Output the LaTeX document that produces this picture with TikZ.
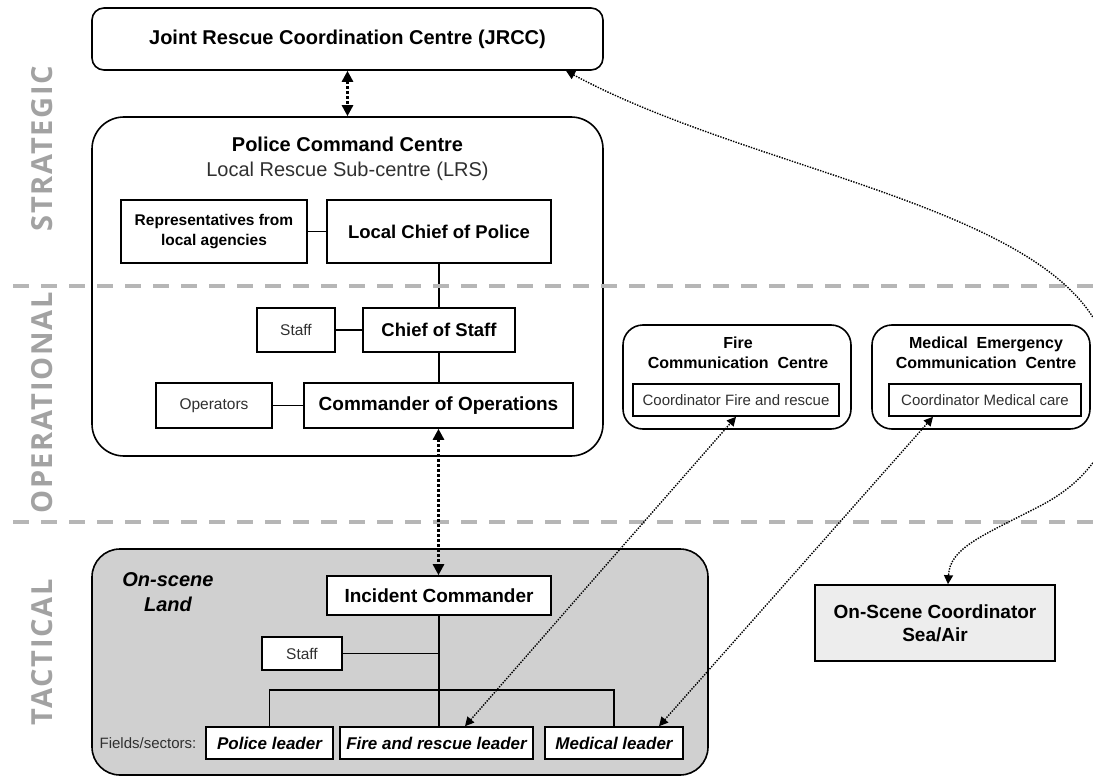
\documentclass[tikz,border=0pt]{standalone}
\usepackage{fontspec}
\setmainfont{Liberation Sans}
\newfontfamily\lvlfont{Open Sans}[LetterSpace=6]
\usetikzlibrary{arrows.meta}
\definecolor{lvlgray}{HTML}{A2A2A2}
\definecolor{dashgray}{HTML}{B6B6B6}
\definecolor{tacfill}{HTML}{D0D0D0}
\definecolor{oscfill}{HTML}{EDEDED}
\definecolor{txtgray}{HTML}{303030}
\newcommand\fsz[2]{\fontsize{#1}{#2}\selectfont}
\begin{document}
\begin{tikzpicture}[x=1pt,y=-1pt,
  box/.style={draw=black, line width=1.6pt, fill=white, inner sep=0pt, align=center, text=black},
  rbox/.style={box, rounded corners=#1},
  conn/.style={line width=1.8pt, black},
  levellabel/.style={rotate=90, text=lvlgray, font=\lvlfont\bfseries\fsz{29}{34}, inner sep=0pt},
  levelline/.style={dashgray, line width=4pt, dash pattern=on 16pt off 12pt},
  thickarr/.style={line width=2.6pt, dash pattern=on 2.6pt off 2.4pt,
    {Triangle[length=11pt,width=11pt]}-{Triangle[length=11pt,width=11pt]}},
  thinarr/.style={line width=1.4pt, dash pattern=on 1.4pt off 1.3pt,
    {Triangle[length=9pt,width=9pt]}-{Triangle[length=9pt,width=9pt]}}
]
\useasboundingbox (0,0) rectangle (1093,776);
\clip (0,0) rectangle (1093,776);

% level labels
\node[levellabel] (strat) at (42,148.5) {STRATEGIC};
\node[levellabel] (oper) at (42,403) {OPERATIONAL};
\node[levellabel] (tact) at (42,652) {TACTICAL};

% strategic / operational
\node[rbox=12pt, minimum width=511pt, minimum height=62pt, font=\bfseries\fsz{20}{24}] (jrcc) at (347.5,39) {Joint Rescue Coordination Centre (JRCC)};

\node[rbox=32pt, minimum width=511pt, minimum height=339pt] (pcc) at (347.5,286.5) {};
\node[font=\bfseries\fsz{20}{24}, inner sep=0pt] (pcct) at (347.5,144) {Police Command Centre};
\node[font=\fsz{20}{24}, text=txtgray, inner sep=0pt] (lrs) at (347.5,171) {Local Rescue Sub-centre (LRS)};

\node[box, minimum width=186pt, minimum height=63pt, font=\bfseries\fsz{15.5}{20}] (reps) at (214,231.5) {Representatives from\\local agencies};
\node[box, minimum width=224pt, minimum height=63pt, font=\bfseries\fsz{18.5}{22}] (lcp) at (439,231.5) {Local Chief of Police};

\node[box, minimum width=78pt, minimum height=44pt, font=\fsz{15.5}{19}, text=txtgray] (staffa) at (296,330) {Staff};
\node[box, minimum width=152pt, minimum height=44pt, font=\bfseries\fsz{18.5}{22}] (cos) at (439,330) {Chief of Staff};

\node[box, minimum width=116pt, minimum height=45pt, font=\fsz{15.5}{19}, text=txtgray] (ops) at (214,405.5) {Operators};
\node[box, minimum width=269pt, minimum height=45pt, font=\bfseries\fsz{19}{23}] (coo) at (438.5,405.5) {Commander of Operations};

% fire / medical
\node[rbox=20pt, minimum width=228pt, minimum height=104pt] (fcc) at (737,377) {};
\node[font=\bfseries\fsz{16}{20}, align=center, inner sep=0pt] (fcct) at (738,353) {Fire\\Communication\ \ Centre};
\node[box, minimum width=206pt, minimum height=32pt, font=\fsz{15}{18}, text=txtgray] (fcoord) at (736,400) {Coordinator Fire and rescue};

\node[rbox=20pt, minimum width=218pt, minimum height=104pt] (mcc) at (981,377) {};
\node[font=\bfseries\fsz{16}{20}, align=center, inner sep=0pt] (mcct) at (986,353) {Medical\ \ Emergency\\Communication\ \ Centre};
\node[box, minimum width=192pt, minimum height=32pt, font=\fsz{15}{18}, text=txtgray] (mcoord) at (985,400) {Coordinator Medical care};

% tactical
\node[rbox=28pt, fill=tacfill, minimum width=616pt, minimum height=226pt] (tacbox) at (400,662) {};
\node[font=\bfseries\itshape\fsz{20}{25}, align=center, inner sep=0pt] (onscene) at (168,592.5) {On-scene\\Land};
\node[box, minimum width=224pt, minimum height=39pt, font=\bfseries\fsz{19}{23}] (ic) at (439,595.5) {Incident Commander};
\node[box, minimum width=80pt, minimum height=33pt, font=\fsz{15.5}{19}, text=txtgray] (staffb) at (302,653.5) {Staff};
\node[font=\fsz{15}{18}, text=txtgray, inner sep=0pt] (fields) at (148,743) {Fields/sectors:};
\node[box, minimum width=127pt, minimum height=32pt, font=\bfseries\itshape\fsz{17}{20}] (pol) at (269.5,743) {Police\ leader};
\node[box, minimum width=193pt, minimum height=32pt, font=\bfseries\itshape\fsz{17}{20}] (frl) at (436.5,743) {Fire and rescue leader};
\node[box, minimum width=138pt, minimum height=32pt, font=\bfseries\itshape\fsz{17}{20}] (mdl) at (614,743) {Medical leader};

\node[box, fill=oscfill, minimum width=240pt, minimum height=76pt, font=\bfseries\fsz{19}{23}] (osc) at (935,623) {On-Scene Coordinator\\Sea/Air};

% solid connectors
\draw[conn] (reps) -- (lcp);
\draw[conn] (lcp.south) -- (lcp.south |- cos.north);
\draw[conn] (staffa) -- (cos);
\draw[conn] (cos.south) -- (cos.south |- coo.north);
\draw[conn] (ops) -- (coo);
\coordinate (trunk) at (ic.south |- staffb.east);
\coordinate (busmid) at (ic.south |- 0,690);
\draw[conn] (ic.south) -- (ic.south |- frl.north);
\draw[conn] (staffb.east) -- (trunk);
\draw[conn] (pol.north) -- (pol.north |- busmid) -- (mdl.north |- busmid) -- (mdl.north);

% level lines
\coordinate (la) at (13,286);
\coordinate (lb) at (1093,286);
\coordinate (lc) at (13,522);
\coordinate (ld) at (1093,522);
\draw[levelline] (la) -- (lb);
\draw[levelline] (lc) -- (ld);

% dotted arrows
\draw[thickarr] (jrcc.south) -- (pcc.north);
\draw[thickarr] (coo.south) -- (coo.south |- ic.north);
\draw[thinarr] ([xshift=28.5pt]frl.north) -- (fcoord.south);
\draw[thinarr] ([xshift=45pt]mdl.north) -- ([xshift=-52pt]mcoord.south);
\draw[thinarr] ([xshift=218.5pt]jrcc.south) .. controls (750,170) and (1040,205) .. (1100,330)
  .. controls (1135,403) and (1110,470) .. (1040,506)
  .. controls (980,537) and (950,548) .. ([xshift=13pt]osc.north);
\end{tikzpicture}
\end{document}
